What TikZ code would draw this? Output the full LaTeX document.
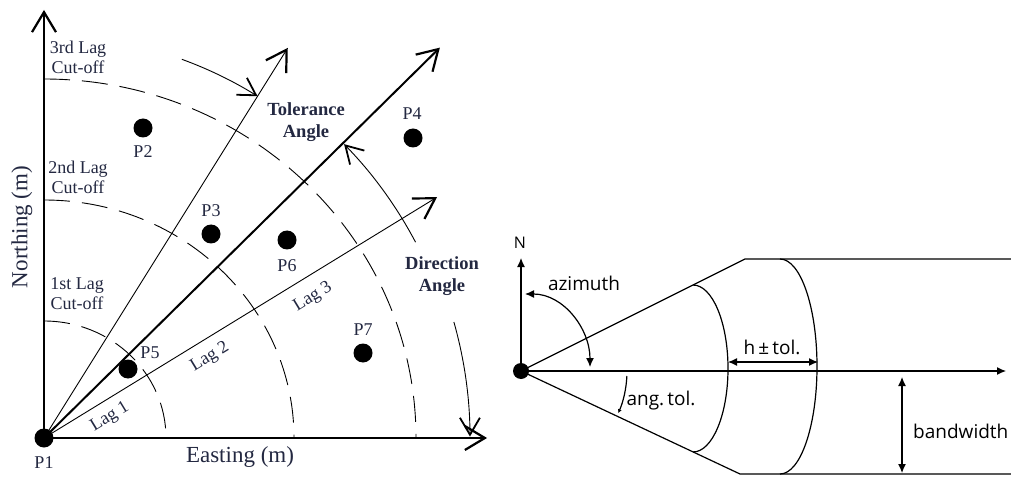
\documentclass[tikz,border=0pt]{standalone}
\usepackage{fontspec}
\setmainfont{Liberation Serif}
\newfontfamily\sansf{Open Sans}
\usetikzlibrary{arrows.meta}
\definecolor{txt}{RGB}{35,40,65}
\begin{document}
\begin{tikzpicture}[x=1pt,y=1pt,
  dot/.style={circle,fill=black,inner sep=0pt,minimum size=19pt},
  sdot/.style={circle,fill=black,inner sep=0pt,minimum size=16pt},
  lbl/.style={font=\fontsize{18}{20}\selectfont,text=txt,align=center,inner sep=0pt},
  blbl/.style={font=\fontsize{18.5}{22}\selectfont\bfseries,text=txt,align=center,inner sep=0pt},
  axlbl/.style={font=\fontsize{23}{25}\selectfont,text=txt,inner sep=0pt},
  slbl/.style={font=\fontsize{19}{22}\selectfont\sansf,text=black,inner sep=0pt},
  lagarc/.style={line width=0.9pt,dash pattern=on 26pt off 12pt},
  bigtip/.style={-{Straight Barb[length=20pt,width=24pt,line width=2.2pt]}},
  midtip/.style={-{Straight Barb[length=17pt,width=20pt,line width=1.8pt]}},
  stip/.style={-{Latex[length=9pt,width=8pt]}},
  sboth/.style={{Latex[length=9pt,width=8pt]}-{Latex[length=9pt,width=8pt]}},
  tinytip/.style={-{Latex[length=4pt,width=4pt]}},
  rline/.style={line width=1.2pt}
]
\useasboundingbox (0,0) rectangle (1011,477);

% ---------------- left diagram ----------------
\node[dot] (P1) at (44,39) {};
\coordinate (ytip) at (44,467);
\coordinate (xtip) at (487,39);
\draw[line width=1.2pt,bigtip] (P1.center) -- (ytip);
\draw[line width=1.2pt,bigtip] (P1.center) -- (xtip);

% lag cut-off arcs
\draw[lagarc] ([shift={(0,117)}]P1.center) arc[start angle=90,end angle=0,x radius=122pt,y radius=117pt];
\draw[lagarc] ([shift={(0,238)}]P1.center) arc[start angle=90,end angle=0,x radius=250pt,y radius=238pt];
\draw[lagarc] ([shift={(0,359)}]P1.center) arc[start angle=90,end angle=0,x radius=372pt,y radius=359pt];

% rays
\coordinate (r1) at ([shift={(58:460)}]P1.center);
\coordinate (r2) at ([shift={(44.6:556)}]P1.center);
\coordinate (r3) at ([shift={(31.5:461)}]P1.center);
\draw[line width=0.9pt,bigtip] (P1.center) -- (r1);
\draw[line width=2pt,bigtip] (P1.center) -- (r2);
\draw[line width=0.9pt,bigtip] (P1.center) -- (r3);

% angle arrows
\coordinate (ta) at ([shift={(70:403)}]P1.center);
\draw[line width=0.9pt,midtip] (ta) arc[start angle=70,end angle=58,radius=403pt];
\coordinate (da) at ([shift={(27.8:420)}]P1.center);
\draw[line width=0.9pt,midtip] (da) arc[start angle=27.8,end angle=44.4,radius=420pt];
\coordinate (db) at ([shift={(15.8:426)}]P1.center);
\draw[line width=0.9pt,midtip] (db) arc[start angle=15.8,end angle=0.2,radius=426pt];

% points
\node[dot] (P2) at (143,349) {};
\node[dot] (P3) at (211,243) {};
\node[dot] (P4) at (413,339) {};
\node[dot] (P5) at (128,108) {};
\node[dot] (P6) at (287,237) {};
\node[dot] (P7) at (363,124) {};
\node[lbl] (lP1) at (44,14) {P1};
\node[lbl] (lP2) at (143,325) {P2};
\node[lbl] (lP3) at (211,266) {P3};
\node[lbl] (lP4) at (412,363) {P4};
\node[lbl] (lP5) at (150,124) {P5};
\node[lbl] (lP6) at (287,211) {P6};
\node[lbl] (lP7) at (363,147) {P7};

% labels
\node[lbl] (c3) at (78,420) {3rd Lag\\Cut-off};
\node[lbl] (c2) at (78,300) {2nd Lag\\Cut-off};
\node[lbl] (c1) at (77,183) {1st Lag\\Cut-off};
\node[blbl] (tol) at (306,355) {Tolerance\\Angle};
\node[blbl] (dir) at (442,201) {Direction\\Angle};
\node[lbl,rotate=31.5] (lag1) at (110,60) {Lag 1};
\node[lbl,rotate=31.5] (lag2) at (210,120) {Lag 2};
\node[lbl,rotate=31.5] (lag3) at (313,180) {Lag 3};
\node[axlbl] (east) at (240,20) {Easting (m)};
\node[axlbl,rotate=90] (north) at (22,250) {Northing (m)};

% ---------------- right diagram ----------------
\node[sdot] (D) at (521,106) {};
\coordinate (Ntip) at (521,219);
\coordinate (Etip) at (1006,106);
\draw[rline,stip] (D.center) -- (Ntip);
\draw[rline,stip] (D.center) -- (Etip);
\node[slbl,font=\fontsize{16}{18}\selectfont\sansf] (N) at (520,234) {N};
\coordinate (cu) at (745,218);
\coordinate (cd) at (740,3);
\coordinate (eu) at (1011,218);
\coordinate (ed) at (1011,3);
\draw[rline] (D.center) -- (cu) -- (eu);
\draw[rline] (D.center) -- (cd) -- (ed);
\draw[rline] (693,192) arc[start angle=90,end angle=-90,x radius=35pt,y radius=83.5pt];
\draw[rline] (780,218) arc[start angle=90,end angle=-90,x radius=37pt,y radius=107.5pt];

\coordinate (h1) at (728,115);
\coordinate (h2) at (818,115);
\draw[rline,sboth] (h1) -- (h2);
\node[slbl] (htol) at (772,130) {h\,\textpm\,tol.};

\coordinate (az1) at (590,110);
\coordinate (az2) at (525,183);
\draw[rline,{Latex[length=9pt,width=8pt]}-{Latex[length=9pt,width=8pt]}] (az1) to[out=90,in=0] (az2);
\node[slbl] (azl) at (584,194) {azimuth};

\coordinate (at1) at ([shift={(-2.7:106)}]D.center);
\draw[rline,tinytip] (at1) arc[start angle=-2.7,end angle=-23.5,radius=106pt];
\node[slbl] (angl) at (661,76) {ang.\,tol.};

\coordinate (b1) at (902,100);
\coordinate (b2) at (902,4);
\draw[rline,sboth] (b1) -- (b2);
\node[slbl,anchor=west] (bw) at (913,46) {bandwidth};
\end{tikzpicture}
\end{document}
